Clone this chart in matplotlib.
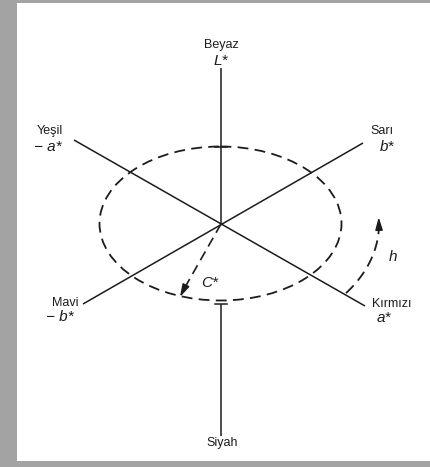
import numpy as np
import matplotlib
matplotlib.use("Agg")
import matplotlib.pyplot as plt
from matplotlib.patches import Ellipse, Rectangle

plt.rcParams['font.family'] = ['Liberation Sans', 'DejaVu Sans']

# diagram geometry, in picture pixels (y grows downward)
W, H = 430, 467
center = (221, 224)
ring_size = (242, 154)              # dashed chroma ring
L_axis_top = [(221, 68), (221, 224)]
L_axis_bottom = [(221, 304), (221, 436)]
a_axis = [(74, 140), (365, 306)]    # -a* (Yesil) -> a* (Kirmizi)
b_axis = [(363, 143), (83, 304)]    # b* (Sari) -> -b* (Mavi)
ticks_y = [147, 304]
C_end = (180, 297)
hue_radii = (158, 113)
hue_angles = (-37.7, 3.5)           # degrees, start/end of hue arc

labels = [
    ("Beyaz", 221, 45, 9, "normal"),
    ("L*", 221, 61, 11, "italic"),
    ("Yeşil", 50, 131, 9, "normal"),
    ("− a*", 48, 147, 11, "italic"),
    ("Sarı", 382, 131, 9, "normal"),
    ("b*", 387, 147, 11, "italic"),
    ("Mavi", 65, 303, 9, "normal"),
    ("− b*", 60, 317, 11, "italic"),
    ("Kırmızı", 392, 304, 9, "normal"),
    ("a*", 384, 318, 11, "italic"),
    ("Siyah", 222, 443, 9, "normal"),
    ("C*", 210, 283, 11, "italic"),
    ("h", 393, 257, 11, "italic"),
]

ink = "#1c1c1c"
head = "-|>,head_width=0.22,head_length=0.75"
fig = plt.figure(figsize=(W / 100, H / 100), dpi=100)
ax = fig.add_axes([0, 0, 1, 1])
ax.set_xlim(0, W)
ax.set_ylim(H, 0)
ax.axis("off")
fig.patch.set_facecolor("#a3a3a3")

# white page with grey shadow frame
ax.add_patch(Rectangle((17, 3), W, 458, facecolor="white", edgecolor="none"))

for seg in (L_axis_top, L_axis_bottom, a_axis, b_axis):
    xs, ys = zip(*seg)
    ax.plot(xs, ys, color=ink, lw=1.1, solid_capstyle="butt")
for ty in ticks_y:
    ax.plot([center[0] - 6, center[0] + 6], [ty, ty], color=ink, lw=1.1)

ax.add_patch(Ellipse((center[0] - 0.5, center[1] - 0.5), ring_size[0], ring_size[1],
                     fill=False, edgecolor=ink, lw=1.3, linestyle=(0, (6, 3.5))))

# C* arrow
ax.plot([center[0], C_end[0] + 4], [center[1], C_end[1] - 8], color=ink, lw=1.2,
        linestyle=(0, (6, 3.5)))
ax.annotate("", xy=C_end, xytext=(C_end[0] + 5, C_end[1] - 10),
            arrowprops=dict(arrowstyle=head, color=ink, lw=1.1,
                            mutation_scale=10, shrinkA=0, shrinkB=0))

# hue arc
t = np.radians(np.linspace(hue_angles[0], hue_angles[1], 60))
hx = center[0] + hue_radii[0] * np.cos(t)
hy = center[1] - hue_radii[1] * np.sin(t)
ax.plot(hx[:-7], hy[:-7], color=ink, lw=1.3, linestyle=(0, (6, 3.5)))
ax.annotate("", xy=(hx[-1], hy[-1]), xytext=(hx[-8], hy[-8]),
            arrowprops=dict(arrowstyle=head, color=ink, lw=1.1,
                            mutation_scale=10, shrinkA=0, shrinkB=0))

for txt, x, y, fs, st in labels:
    ax.text(x, y, txt, fontsize=fs, style=st, color=ink, ha="center", va="center")

fig.savefig("out.png", dpi=100, facecolor=fig.get_facecolor())
